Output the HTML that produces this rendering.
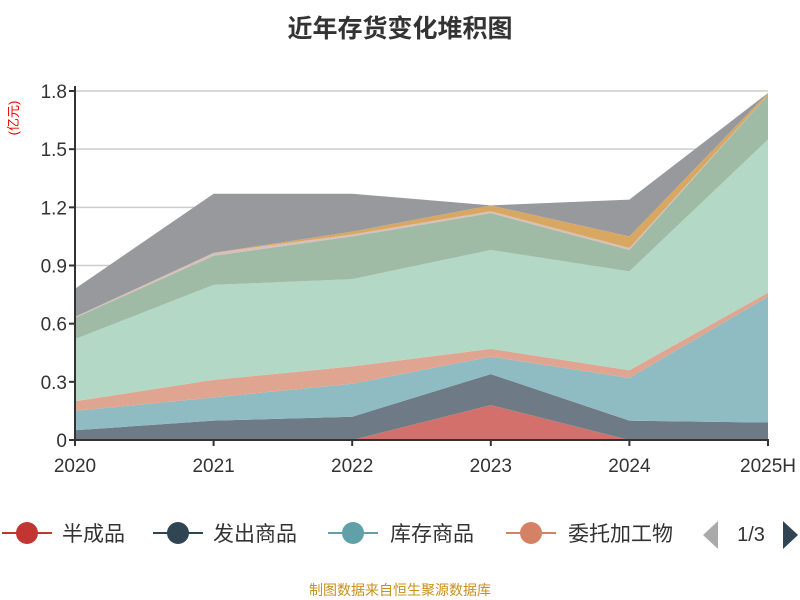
<!DOCTYPE html>
<html><head><meta charset="utf-8"><style>
body{margin:0;background:#fff;font-family:"Liberation Sans","Noto Sans CJK SC",sans-serif;}
#wrap{position:relative;width:800px;height:600px;overflow:hidden}
</style></head><body><div id="wrap">
<svg id="svg" width="800" height="600" xmlns="http://www.w3.org/2000/svg">
<text x="400" y="37" text-anchor="middle" font-size="25" font-weight="bold" fill="#333" font-family="Liberation Sans,Noto Sans CJK SC,sans-serif">近年存货变化堆积图</text>
<text transform="translate(18,118) rotate(-90)" text-anchor="middle" font-size="13" fill="#e00" font-family="Liberation Sans,Noto Sans CJK SC,sans-serif">(亿元)</text>
<g id="grid"></g><g id="areas"></g><g id="axes"></g><g id="legend"></g>
<text x="400" y="595" text-anchor="middle" font-size="14" fill="#c8901a" font-family="Liberation Sans,Noto Sans CJK SC,sans-serif">制图数据来自恒生聚源数据库</text>
</svg></div>
<script>
const categories=["2020","2021","2022","2023","2024","2025H"];
const yTicks=[0,0.3,0.6,0.9,1.2,1.5,1.8];
const seriesNames=["半成品","发出商品","库存商品","委托加工物","原材料","在产品","周转材料","合同履约成本","其他"];
const s1=[0,0,0,0.18,0,0];
const s2=[0.05,0.10,0.12,0.16,0.10,0.09];
const s3=[0.10,0.12,0.17,0.09,0.22,0.65];
const s4=[0.05,0.09,0.09,0.04,0.04,0.02];
const s5=[0.32,0.49,0.45,0.51,0.51,0.79];
const s6=[0.11,0.15,0.22,0.19,0.11,0.23];
const s7=[0.005,0.015,0.01,0.01,0.01,0.0];
const s8=[0,0,0.015,0.03,0.06,0.01];
const s9=[0.145,0.305,0.195,0,0.19,0];
const allSeries=[s1,s2,s3,s4,s5,s6,s7,s8,s9];
const colors=["#d4706c","#6e7b86","#8fbbc2","#e0a590","#b3d8c6","#9fbba6","#d8bfb8","#d8a862","#98999d"];
const NS="http://www.w3.org/2000/svg";
const x0=75,x1=768,yb=440,yt=91,ymax=1.8;
const xs=i=>x0+(x1-x0)*i/(categories.length-1);
const ys=v=>yb-(yb-yt)*v/ymax;
function mk(t,a,p){const e=document.createElementNS(NS,t);for(const k in a)e.setAttribute(k,a[k]);p.appendChild(e);return e;}
const grid=document.getElementById('grid'),areas=document.getElementById('areas'),axes=document.getElementById('axes'),leg=document.getElementById('legend');
yTicks.forEach(v=>{
 if(v>0){const g=mk('line',{x1:x0,x2:x1,y1:ys(v),y2:ys(v),stroke:'#ccc','stroke-width':1.5},grid);
 
 }
 const t=mk('text',{x:x0-8,y:ys(v)+7,'text-anchor':'end','font-size':19,fill:'#333'},axes);t.textContent=String(v);
 
 
 mk('line',{x1:x0-6,x2:x0,y1:ys(v),y2:ys(v),stroke:'#333','stroke-width':2},axes);
});
let base=categories.map(()=>0);
allSeries.forEach((s,k)=>{
 const top=base.map((b,i)=>b+s[i]);
 let d='';
 top.forEach((v,i)=>{d+=(i?'L':'M')+xs(i)+','+ys(v);});
 for(let i=base.length-1;i>=0;i--)d+='L'+xs(i)+','+ys(base[i]);
 const p=mk('path',{d:d+'Z',fill:colors[k]},areas);
 
 
 base=top;
});
mk('line',{x1:x0,x2:x0,y1:yt-5,y2:yb,stroke:'#333','stroke-width':2},axes);
mk('line',{x1:x0,x2:x1+1,y1:yb,y2:yb,stroke:'#333','stroke-width':2},axes);
categories.forEach((c,i)=>{
 mk('line',{x1:xs(i),x2:xs(i),y1:yb,y2:yb+6,stroke:'#333','stroke-width':2},axes);
 const t=mk('text',{x:xs(i),y:yb+32,'text-anchor':'middle','font-size':19,fill:'#333'},axes);t.textContent=c;
 
 
});
const lx=[27,178,353,531],tx=[62,213,390,568],lc=["#c23531","#2f4554","#61a0a8","#d48265"];
for(let k=0;k<4;k++){
 const g=mk('g',{},leg);
 
 
 mk('line',{x1:lx[k]-25,x2:lx[k]+25,y1:533,y2:533,stroke:lc[k],'stroke-width':2},g);
 mk('circle',{cx:lx[k],cy:533,r:11,fill:lc[k]},g);
 const t=mk('text',{x:tx[k],y:541,'font-size':21,fill:'#333'},g);t.textContent=seriesNames[k];
}
const pl=mk('polygon',{points:'718,521 718,549 703,535',fill:'#aaa'},leg);


const pg=mk('text',{x:751,y:541,'text-anchor':'middle','font-size':20,fill:'#333'},leg);pg.textContent='1/3';


const pn=mk('polygon',{points:'783,521 783,549 798,535',fill:'#2f4554'},leg);


</script></body></html>
